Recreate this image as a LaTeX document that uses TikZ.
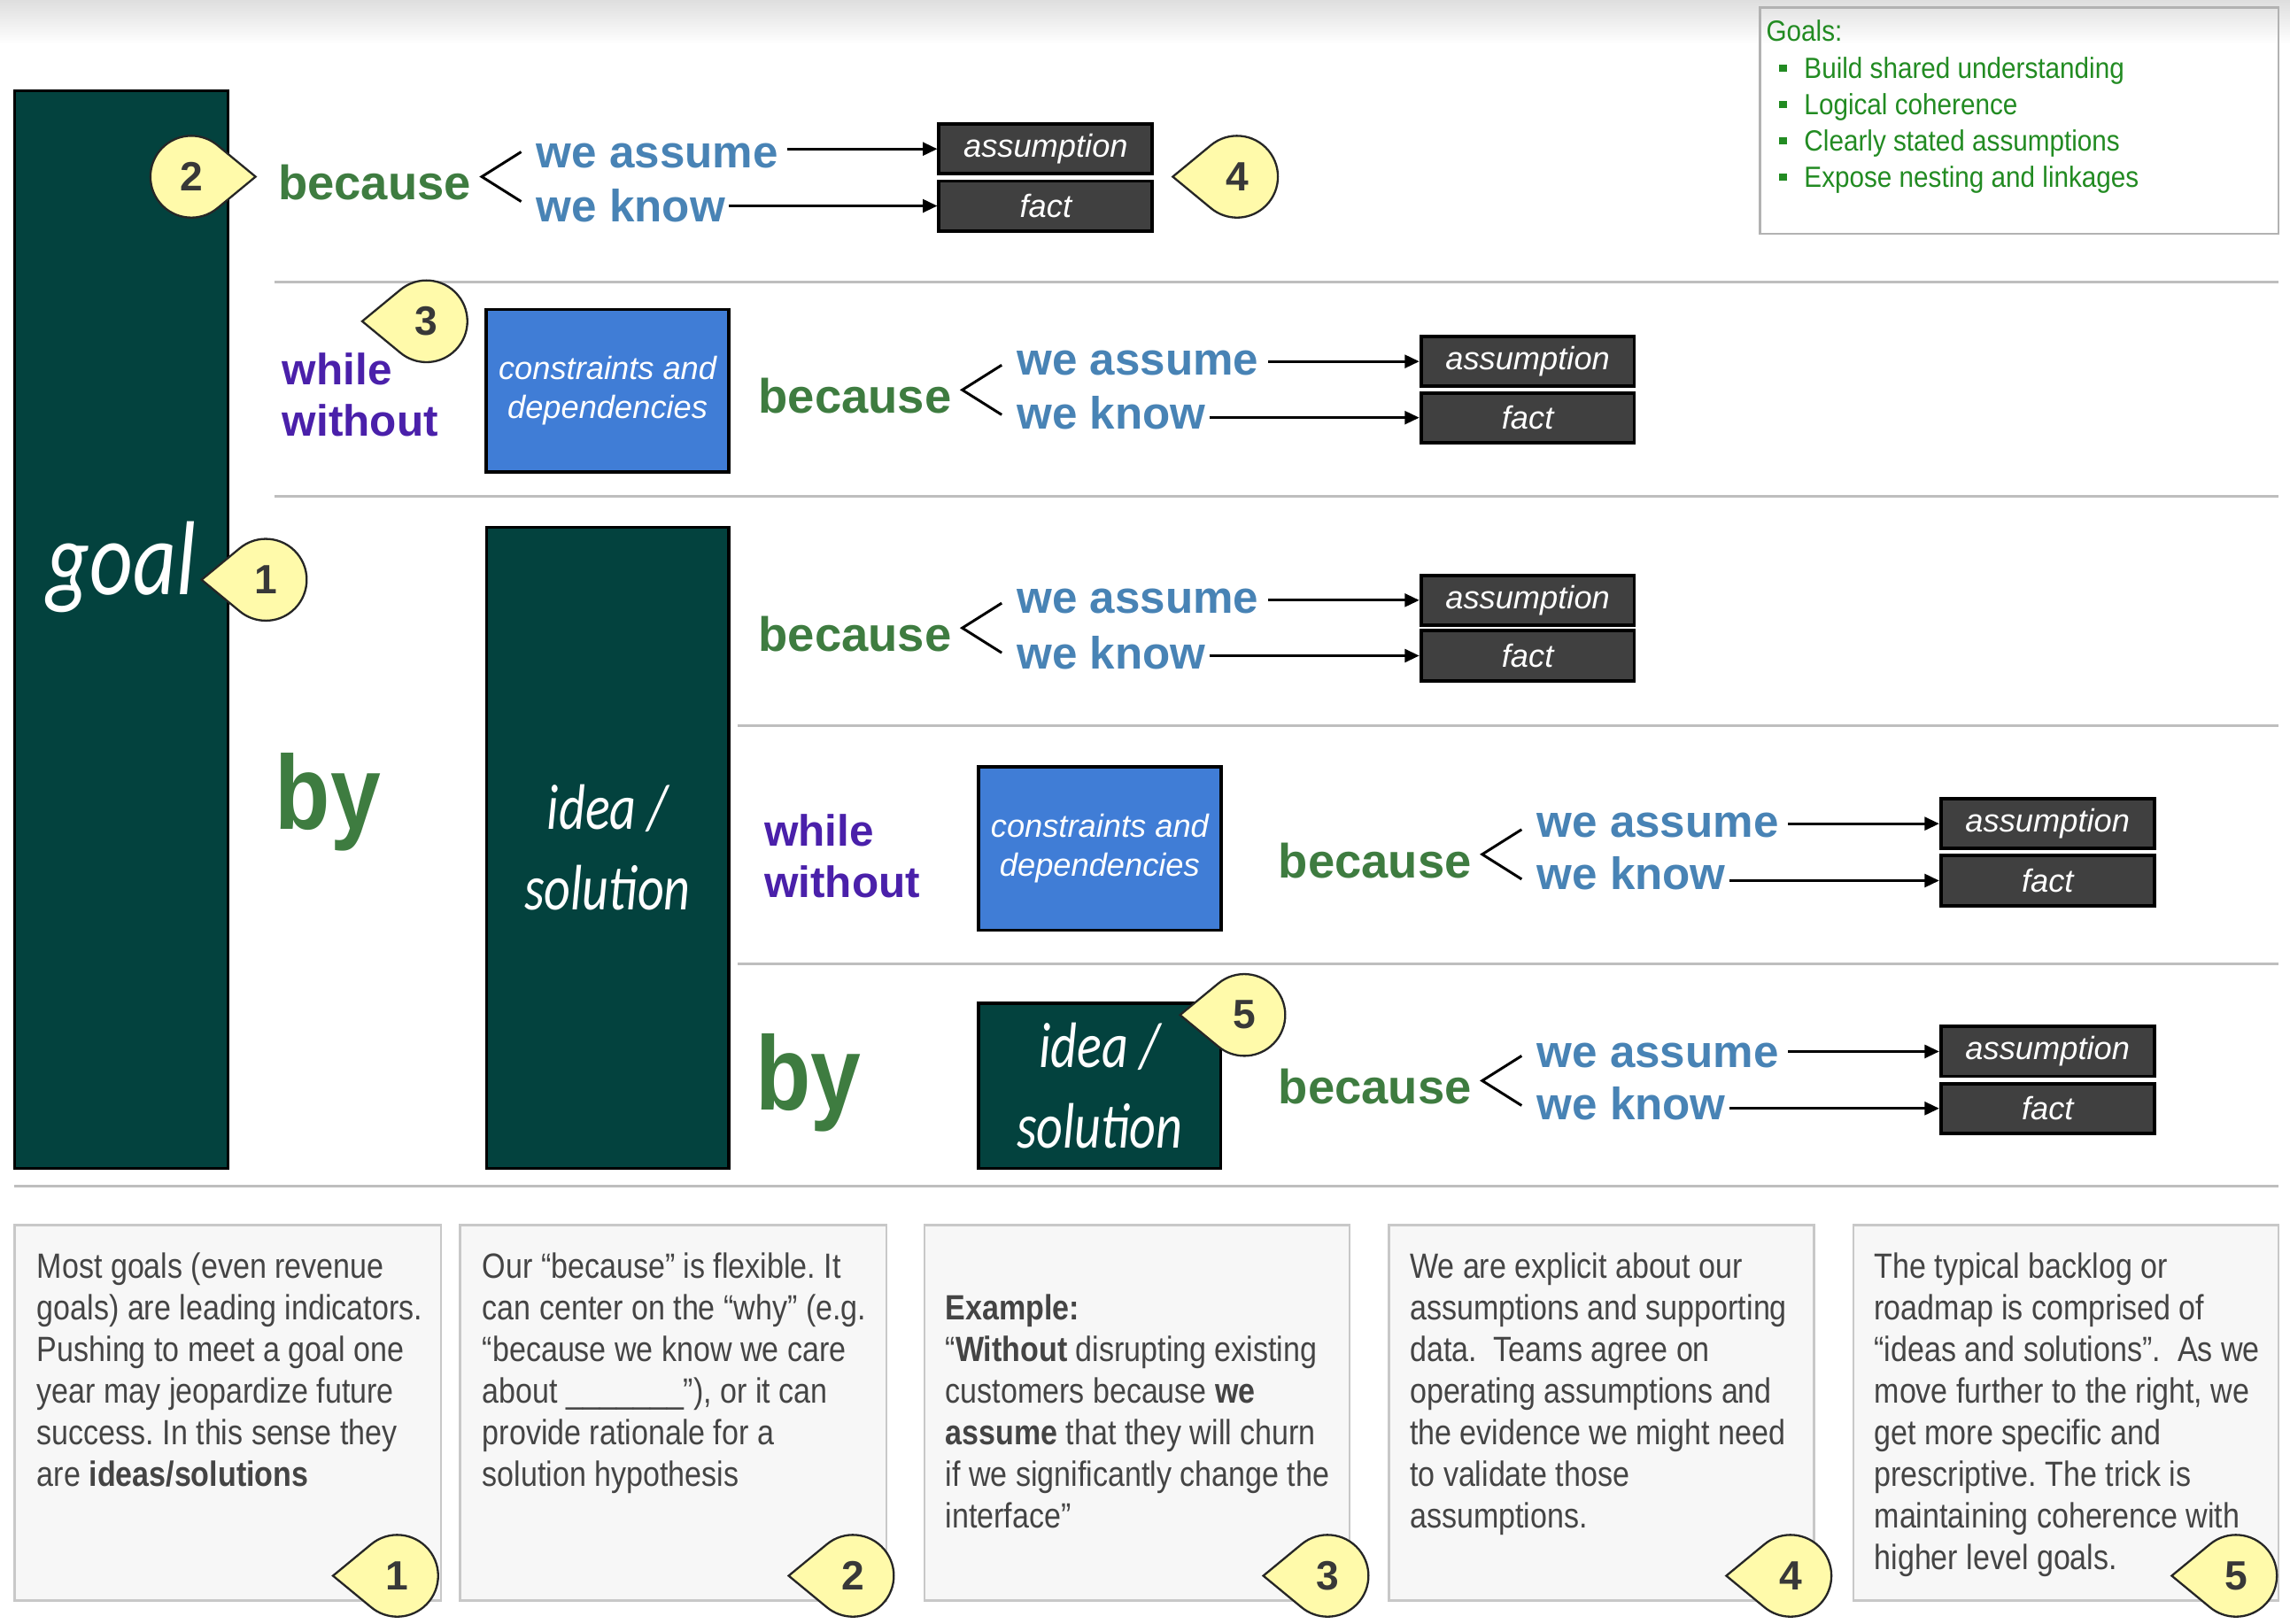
\documentclass[tikz,border=0pt]{standalone}
\usepackage{fontspec}
\setmainfont{Liberation Sans}
\newfontfamily\narrowfont[FakeStretch=0.86]{Liberation Sans}
\newfontfamily\goalsfont[FakeStretch=0.9]{Liberation Sans}
\newfontfamily\byfont[FakeStretch=0.86]{Liberation Sans}
\newfontfamily\handfont[FakeStretch=0.8]{Carlito}
\usetikzlibrary{arrows.meta,calc}
\frenchspacing
\definecolor{mteal}{RGB}{3,66,62}
\definecolor{mgreen}{RGB}{62,124,64}
\definecolor{mblue}{RGB}{72,131,181}
\definecolor{mpurple}{RGB}{74,32,170}
\definecolor{cblue}{RGB}{64,125,214}
\definecolor{factgray}{RGB}{64,64,64}
\definecolor{cyellow}{RGB}{255,250,170}
\definecolor{ggreen}{RGB}{34,139,34}
\definecolor{notefill}{RGB}{247,247,247}
\definecolor{noteline}{RGB}{200,200,200}
\definecolor{notetext}{RGB}{68,68,68}
\definecolor{sepline}{RGB}{190,190,190}
\tikzset{
  bec/.style={font=\bfseries\fontsize{16.5}{18}\selectfont, text=mgreen, inner sep=0pt, anchor=base west},
  we/.style={font=\bfseries\fontsize{15.5}{17}\selectfont, text=mblue, inner sep=1pt, anchor=base west},
  whilest/.style={font=\bfseries\fontsize{15}{17.75}\selectfont, text=mpurple, inner sep=0pt, anchor=north west, align=left},
  bysty/.style={font=\byfont\bfseries\fontsize{36}{40}\selectfont, text=mgreen, inner sep=0pt, anchor=base west},
  abox/.style={fill=factgray, draw=black, line width=1.2pt, minimum width=73pt, minimum height=17pt, inner sep=0pt, text=white, font=\itshape\fontsize{11}{13}\selectfont},
  tealbar/.style={fill=mteal, draw=black, line width=1pt, inner sep=0pt, text=white, font=\handfont\itshape\fontsize{22}{27.5}\selectfont, align=center},
  consbox/.style={fill=cblue, draw=black, line width=1.1pt, inner sep=0pt, text=white, font=\itshape\fontsize{11}{13.5}\selectfont, align=center, minimum width=83pt},
  conn/.style={-{Triangle[length=5pt,width=4.5pt]}, line width=0.9pt, black},
  brk/.style={line width=0.9pt, black},
  seprule/.style={draw=sepline, line width=1pt},
  notebox/.style={fill=notefill, draw=noteline, line width=0.8pt},
  note/.style={font=\narrowfont\fontsize{12}{14.25}\selectfont, text=notetext, inner sep=0pt, anchor=north west, align=left},
  goalst/.style={font=\goalsfont\fontsize{10}{12.5}\selectfont, text=ggreen, inner sep=0pt, anchor=north west, align=left},
  callshape/.style={fill=cyellow, draw=black!85, line width=0.7pt},
  callnum/.style={font=\bfseries\fontsize{14}{14}\selectfont, text=black!78, inner sep=0pt},
}
\newcommand\goalbullet{\hspace*{4.5pt}\rule[0.22em]{2.5pt}{2.5pt}\hspace*{6pt}}
% name, cx, cy, pointing angle, number
\newcommand\callout[5]{%
  \path[callshape] ($(#2,#3)+(#4:44)$) -- ($(#2,#3)+(#4+50:28)$)
     arc[start angle=#4+50, end angle=#4+310, radius=28] -- cycle;
  \node[callnum] (#1) at (#2,#3) {#5};
}
% id, because x, because base, assume base, know base, box cx, asm cy, fact cy
\newcommand\reasonrow[8]{%
  \node[bec] (bec#1) at (#2,#3) {because};
  \node[we] (wa#1) at (#2+175,#4) {we assume};
  \node[we] (wk#1) at (#2+175,#5) {we know};
  \node[abox] (asm#1) at (#6,#7) {assumption};
  \node[abox] (fct#1) at (#6,#8) {fact};
  \draw[conn] ([xshift=2pt]wa#1.east |- asm#1.west) -- (asm#1.west);
  \draw[conn] (wk#1.east |- fct#1.west) -- (fct#1.west);
  \draw[brk] ($(bec#1.base east)+(34,-33)$) -- ($(bec#1.base east)+(7,-16)$) -- ($(bec#1.base east)+(34,1)$);
}
\begin{document}
\begin{tikzpicture}[x=0.5pt,y=-0.5pt]
\useasboundingbox (0,0) rectangle (1568,1112);
\fill[white] (0,0) rectangle (1568,1112);
\shade[top color=black!13, bottom color=white] (0,0) rectangle (1568,30);

% goals box
\draw[draw=black!30, line width=0.8pt] (1205,5) rectangle (1560,160);
\node[goalst] (goals) at (1209,10.5) {\strut Goals:\\
  \goalbullet Build shared understanding\\
  \goalbullet Logical coherence\\
  \goalbullet Clearly stated assumptions\\
  \goalbullet Expose nesting and linkages};

% separators
\draw[seprule] (188,193) -- (1560,193);
\draw[seprule] (188,340) -- (1560,340);
\draw[seprule] (505,497) -- (1560,497);
\draw[seprule] (505,660) -- (1560,660);
\draw[seprule] (10,812) -- (1560,812);

% bars and boxes
\node[tealbar, minimum width=73pt, minimum height=369pt] (goalbar) at (83,431) {};
\node[font=\handfont\itshape\fontsize{36}{40}\selectfont, text=white, inner sep=0pt, anchor=base] (goal) at (83,407) {goal};
\node[tealbar, minimum width=83pt, minimum height=219.5pt] (idea1) at (416,580.5) {idea /\\solution};
\node[tealbar, minimum width=83pt, minimum height=56.5pt] (idea2) at (753,743.5) {idea /\\solution};
\node[consbox, minimum height=55.5pt] (cons1) at (416,267.5) {constraints and\\dependencies};
\node[consbox, minimum height=56pt] (cons2) at (753,581) {constraints and\\dependencies};

% connective words
\node[whilest] (wh1) at (193,238) {\strut while\\without};
\node[whilest] (wh2) at (523,554) {\strut while\\without};
\node[bysty] (by1) at (188,568) {by};
\node[bysty] (by2) at (517,760) {by};

% because rows
\reasonrow{1}{190}{137}{115}{152}{716}{102}{141}
\reasonrow{2}{519}{283}{257}{294}{1046}{247.5}{286}
\reasonrow{3}{519}{446}{420}{458}{1046}{411}{449}
\reasonrow{4}{875}{601}{573}{609}{1402}{564}{603}
\reasonrow{5}{875}{756}{731}{767}{1402}{720}{759}

% callouts in diagram
\callout{k1}{182}{397}{180}{1}
\callout{k2}{131}{121}{0}{2}
\callout{k3}{292}{220}{180}{3}
\callout{k4}{847}{121}{180}{4}
\callout{k5}{852}{695}{180}{5}

% note boxes
\draw[notebox] (10,839) rectangle (302,1096);
\draw[notebox] (315,839) rectangle (607,1096);
\draw[notebox] (633,839) rectangle (924,1096);
\draw[notebox] (951,839) rectangle (1242,1096);
\draw[notebox] (1269,839) rectangle (1560,1096);

\node[note] (n1) at (25,855) {\strut Most goals (even revenue\\
goals) are leading indicators.\\
Pushing to meet a goal one\\
year may jeopardize future\\
success. In this sense they\\
are \textbf{ideas/solutions}};
\node[note] (n2) at (330,855) {\strut Our “because” is flexible. It\\
can center on the “why” (e.g.\\
“because we know we care\\
about \_\_\_\_\_\_\_”), or it can\\
provide rationale for a\\
solution hypothesis};
\node[note] (n3) at (647,883.5) {\strut\textbf{Example:}\\
“\textbf{Without} disrupting existing\\
customers because \textbf{we}\\
\textbf{assume} that they will churn\\
if we significantly change the\\
interface”};
\node[note] (n4) at (965,855) {\strut We are explicit about our\\
assumptions and supporting\\
data.~ Teams agree on\\
operating assumptions and\\
the evidence we might need\\
to validate those\\
assumptions.};
\node[note] (n5) at (1283,855) {\strut The typical backlog or\\
roadmap is comprised of\\
“ideas and solutions”.~ As we\\
move further to the right, we\\
get more specific and\\
prescriptive. The trick is\\
maintaining coherence with\\
higher level goals.};

% callouts on notes
\callout{m1}{272}{1079}{180}{1}
\callout{m2}{584}{1079}{180}{2}
\callout{m3}{909}{1079}{180}{3}
\callout{m4}{1226}{1079}{180}{4}
\callout{m5}{1531}{1079}{180}{5}
\end{tikzpicture}
\end{document}
